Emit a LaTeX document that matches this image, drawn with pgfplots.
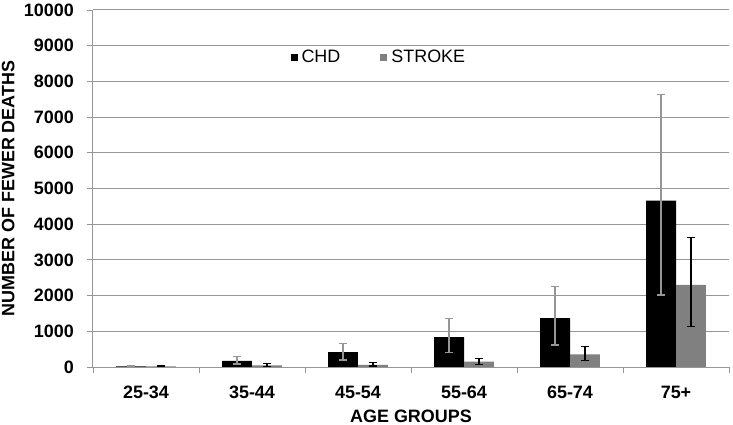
\documentclass[border=0pt]{standalone}
\usepackage{pgfplots}
\pgfplotsset{compat=1.18}
\usepackage{pgfplotstable}
\usepackage{fontspec}
\setmainfont{Liberation Sans}
\definecolor{gridgray}{HTML}{969696}
\definecolor{strokegray}{HTML}{808080}
\pgfplotstableread{
x v ep em
0 15 25 10
1 170 120 85
2 420 240 224
3 840 520 430
4 1370 890 750
5 4660 2980 2640
}\chd
\pgfplotstableread{
x v ep em
0 15 20 10
1 45 55 35
2 60 60 30
3 150 80 75
4 355 225 175
5 2300 1330 1170
}\stroke
\begin{document}
\fontsize{18}{21}\selectfont
\begin{tikzpicture}
\begin{axis}[
  at={(0,0)}, anchor=south west,
  scale only axis,
  width=636bp, height=357bp,
  ymin=0, ymax=10000,
  ytick={0,1000,...,10000},
  scaled y ticks=false,
  xmin=-0.5, xmax=5.5,
  xtick={0,1,2,3,4,5},
  xticklabels={25-34,35-44,45-54,55-64,65-74,75+},
  minor xtick={-0.5,0.5,1.5,2.5,3.5,4.5,5.5},
  major x tick style={draw=none},
  minor tick length=6bp,
  major tick length=6bp,
  tick align=outside,
  tick style={gridgray, line width=0.8bp},
  ymajorgrids,
  grid style={gridgray, line width=1bp},
  axis x line*=bottom,
  axis y line*=left,
  axis line style={gridgray, line width=1bp, -},
  /pgf/number format/assume math mode=true,
  /pgf/number format/1000 sep={},
  /pgf/number format/fixed,
  ticklabel style={font=\fontsize{18}{21}\selectfont\bfseries},
  yticklabel style={anchor=east, inner sep=0pt, xshift=-13bp},
  xticklabel style={anchor=base, inner sep=0pt, yshift=-25bp},
  xlabel={AGE GROUPS},
  ylabel={NUMBER OF FEWER DEATHS},
  label style={font=\fontsize{18}{21}\selectfont\bfseries, inner sep=0pt},
  xlabel style={at={(axis description cs:0.5,-0.137)}, anchor=center},
  ylabel style={at={(axis description cs:-0.1335,0.5)}, anchor=center},
  ybar=0pt,
  bar width=0.283,
  legend style={draw=none, fill=none, at={(0.451,0.868)}, anchor=center,
    font=\fontsize{18}{21}\selectfont, legend columns=2,
    nodes={inner xsep=4bp},
    /tikz/every even column/.append style={column sep=36bp}},
  legend image code/.code={\fill[#1] (0bp,-3.5bp) rectangle (7bp,3.5bp);},
]
\addplot[fill=black, draw=none,
  error bars/.cd, y dir=both, y explicit,
  error bar style={gridgray, line width=1.3bp},
  error mark options={rotate=90, mark size=4bp, gridgray, line width=1.3bp}]
  table[x=x, y=v, y error plus=ep, y error minus=em]{\chd};
\addplot[fill=strokegray, draw=none,
  error bars/.cd, y dir=both, y explicit,
  error bar style={black, line width=1.3bp},
  error mark options={rotate=90, mark size=4bp, black, line width=1.3bp}]
  table[x=x, y=v, y error plus=ep, y error minus=em]{\stroke};
\legend{CHD, STROKE}
\end{axis}
\pgfresetboundingbox
\path[use as bounding box] (-93bp,-58bp) rectangle (640bp,367bp);
\end{tikzpicture}
\end{document}
